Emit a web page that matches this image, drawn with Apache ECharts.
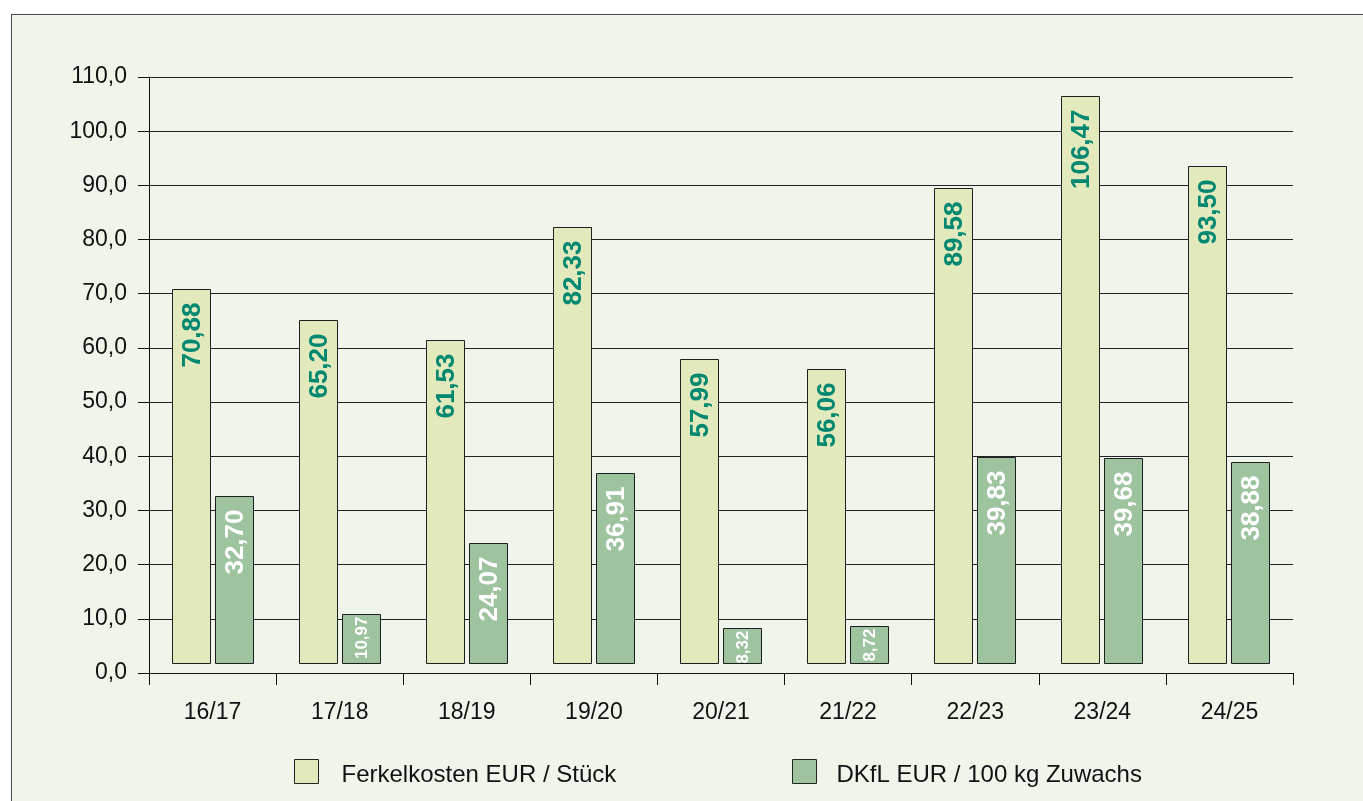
<!DOCTYPE html>
<html>
<head>
<meta charset="utf-8">
<script src="https://cdn.jsdelivr.net/npm/echarts@6/dist/echarts.min.js"></script>
<style>
  html, body { margin: 0; padding: 0; background: #ffffff; }
  #frame {
    position: absolute; left: 11px; top: 14px; width: 1360px; height: 800px;
    background: #f0f5ec; border: 1px solid #4a4a4a;
  }
  #chart { position: absolute; left: 0; top: 0; width: 1363px; height: 801px; }
</style>
</head>
<body>
<div id="frame"></div>
<div id="chart"></div>
<script>
// Wirtschaftsjahre
let categories = ["16/17", "17/18", "18/19", "19/20", "20/21", "21/22", "22/23", "23/24", "24/25"];
let ferkelkosten = [70.88, 65.20, 61.53, 82.33, 57.99, 56.06, 89.58, 106.47, 93.50];
let dkfl = [32.70, 10.97, 24.07, 36.91, 8.32, 8.72, 39.83, 39.68, 38.88];
let yTicks = [0, 10, 20, 30, 40, 50, 60, 70, 80, 90, 100, 110];
let seriesNames = ["Ferkelkosten EUR / Stück", "DKfL EUR / 100 kg Zuwachs"];

const BAR_W = 38;
const FONT = "'Liberation Sans', Arial, Helvetica, sans-serif";

function fmt(v, d) {
    return v.toFixed(d).replace(".", ",");
}

// bars are drawn slightly above the zero line, like in the original
function makeSeries(name, values, dx, fill, textColor) {
    return {
        name: name,
        type: "custom",
        itemStyle: {color: fill, borderColor: "#1e1e1e", borderWidth: 1},
        data: values.map((v, i) => [i, v]),
        encode: {x: 0, y: 1},
        renderItem: function (params, api) {
            let i = api.value(0);
            let v = api.value(1);
            let top = api.coord([i, v]);
            let zero = api.coord([i, 0]);
            let x = Math.round(top[0] + dx) + 0.5;
            let yTop = Math.round(top[1]) + 0.5;
            let yBase = Math.round(zero[1]) - 9.5;
            let small = v < 15;
            return {
                type: "group",
                children: [
                    {
                        type: "rect",
                        shape: {x: x, y: yTop, width: BAR_W, height: yBase - yTop},
                        style: {fill: fill, stroke: "#1e1e1e", lineWidth: 1}
                    },
                    {
                        type: "text",
                        x: x + BAR_W / 2 + 1,
                        y: yTop + (small ? 2 : 13),
                        rotation: Math.PI / 2,
                        style: {
                            text: fmt(v, 2),
                            fill: textColor,
                            font: "bold " + (small ? 17 : 26) + "px " + FONT,
                            align: "right",
                            verticalAlign: "middle"
                        }
                    }
                ]
            };
        }
    };
}

function legendText(padLeft) {
    return {
        fontSize: 24, color: "#111", fontFamily: FONT,
        rich: {t: {fontSize: 24, color: "#111", fontFamily: FONT, padding: [8, 0, 0, padLeft]}}
    };
}

let chart = echarts.init(document.getElementById("chart"));
let option = {
    animation: false,
    backgroundColor: "transparent",
    grid: {left: 149, right: 70, top: 77, bottom: 128},
    legend: [
        {
            left: 294, top: 759, padding: 0,
            itemWidth: 24, itemHeight: 24,
            formatter: "{t|{name}}",
            data: [{name: seriesNames[0], icon: "rect",
                itemStyle: {color: "#e1e9bd", borderColor: "#222", borderWidth: 1}}],
            textStyle: legendText(18)
        },
        {
            left: 792, top: 759, padding: 0,
            itemWidth: 24, itemHeight: 24,
            formatter: "{t|{name}}",
            data: [{name: seriesNames[1], icon: "rect",
                itemStyle: {color: "#9dc39f", borderColor: "#222", borderWidth: 1}}],
            textStyle: legendText(15)
        }
    ],
    xAxis: {
        type: "category",
        data: categories,
        boundaryGap: true,
        axisLine: {lineStyle: {color: "#111", width: 1}},
        axisTick: {show: true, length: 12, lineStyle: {color: "#111"}},
        axisLabel: {fontSize: 23, color: "#111", fontFamily: FONT, margin: 28}
    },
    yAxis: {
        type: "value",
        min: yTicks[0],
        max: yTicks[yTicks.length - 1],
        interval: 10,
        axisLine: {show: true, lineStyle: {color: "#111", width: 1}},
        axisTick: {show: true, length: 11, lineStyle: {color: "#111"}},
        splitLine: {show: true, lineStyle: {color: "#222", width: 1}},
        axisLabel: {
            fontSize: 23, color: "#111", fontFamily: FONT, margin: 22,
            formatter: v => fmt(v, 1)
        }
    },
    series: [
        makeSeries(seriesNames[0], ferkelkosten, -41, "#e1e9bd", "#00876f"),
        makeSeries(seriesNames[1], dkfl, 2, "#9dc39f", "#ffffff")
    ]
};
chart.setOption(option);
</script>
</body>
</html>
